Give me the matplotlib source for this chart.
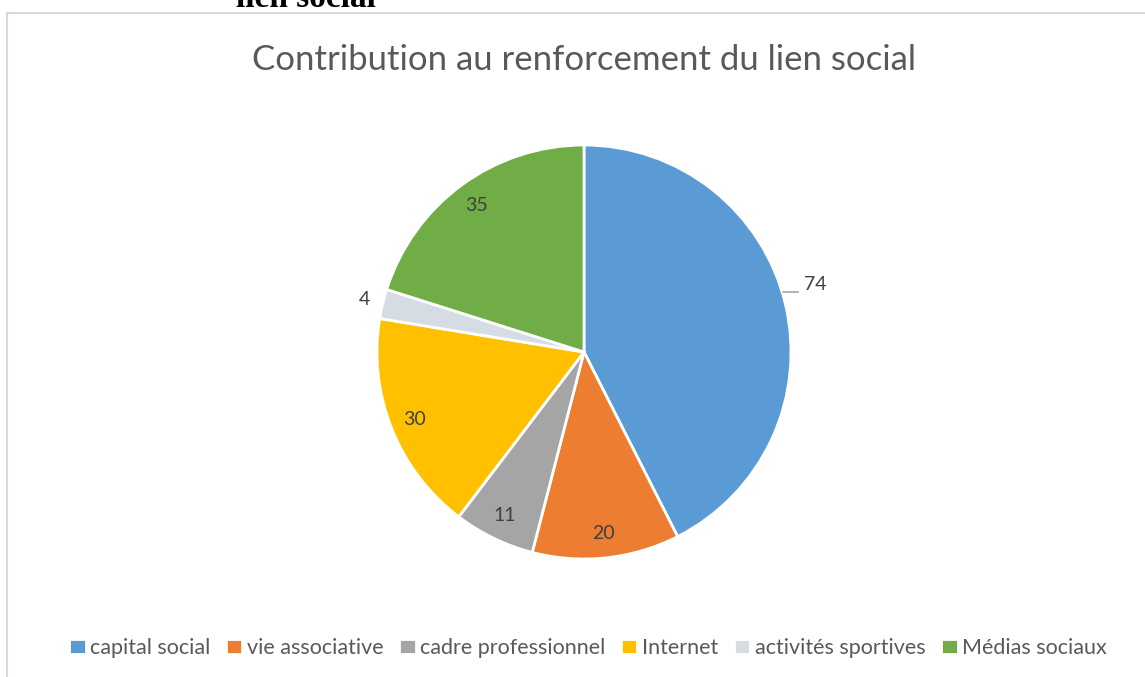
import numpy as np
import matplotlib.pyplot as plt
from matplotlib.patches import Rectangle

categories = ["capital social", "vie associative", "cadre professionnel",
              "Internet", "activités sportives", "Médias sociaux"]
values = [74, 20, 11, 30, 4, 35]
colors = ["#5B9BD5", "#ED7D31", "#A5A5A5", "#FFC000", "#D6DCE4", "#70AD47"]

plt.rc("font", family=["Lato", "DejaVu Sans"])

W, H = 1145, 677
fig = plt.figure(figsize=(W / 100, H / 100), dpi=100)

# chart frame (only top and left edges visible in the crop)
fig.add_artist(Rectangle((7 / W, -0.1), 1.2, 1 - 13 / H + 0.1, transform=fig.transFigure,
                         fill=False, edgecolor="#D9D9D9", linewidth=1.5))
fig.text(236 / W, 1 - 7 / H, "lien social", family="Liberation Serif", fontweight="bold",
         fontsize=24, va="baseline", ha="left", color="black")

# pie axes: center (584, 352), radius 207 px
r = 207
ax = fig.add_axes([(584 - r) / W, (H - 352 - r) / H, 2 * r / W, 2 * r / H])
wedges, _ = ax.pie(values, colors=colors, startangle=90, counterclock=False,
                   wedgeprops=dict(edgecolor="white", linewidth=2))
ax.set_aspect("equal")
ax.set_xlim(-1, 1)
ax.set_ylim(-1, 1)

for w, v in zip(wedges, values):
    ang = np.radians((w.theta1 + w.theta2) / 2)
    c, s = np.cos(ang), np.sin(ang)
    if v == 74:
        # label pulled out with a short leader line
        ax.plot([0.96, 1.035], [0.29, 0.29], color="#A6A6A6", lw=1.2, clip_on=False)
        ax.text(1.15 * c, 1.15 * s + 0.06, str(v), ha="center", va="center", fontsize=14,
                color="#404040")
    elif v == 4:
        ax.text(1.09 * c, 1.09 * s, str(v), ha="center", va="center", fontsize=14,
                color="#404040")
    else:
        ax.text(0.88 * c, 0.88 * s, str(v), ha="center", va="center", fontsize=14,
                color="#404040")

fig.text(584 / W, 1 - 60 / H, "Contribution au renforcement du lien social",
         ha="center", va="center", fontsize=25, color="#595959")

leg = fig.legend(wedges, categories, loc="center", bbox_to_anchor=(588 / W, 1 - 648 / H),
                 ncol=6, frameon=False, fontsize=15.5, handlelength=0.75, handleheight=0.75,
                 handletextpad=0.2, columnspacing=0.75)
for t in leg.get_texts():
    t.set_color("#595959")

fig.savefig("out.png", dpi=100)
